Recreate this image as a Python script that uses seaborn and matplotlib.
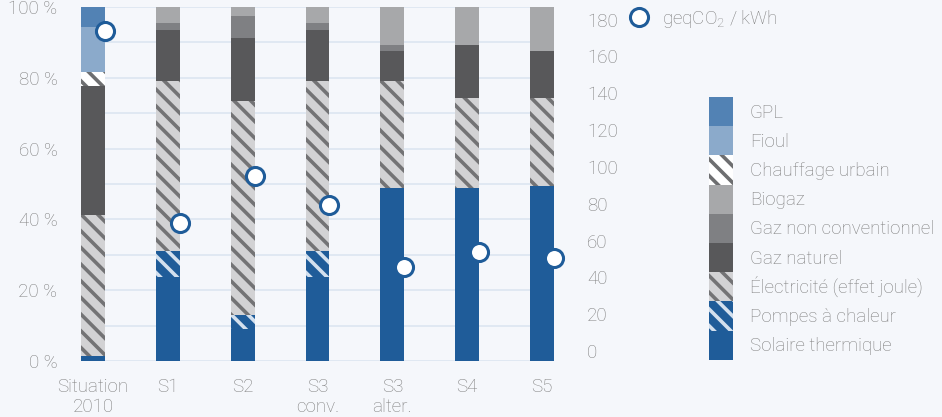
import numpy as np
import pandas as pd
import matplotlib
matplotlib.use("Agg")
import matplotlib.pyplot as plt
import seaborn as sns
from matplotlib.patches import Patch
from matplotlib.lines import Line2D

# données (parts en %, de bas en haut) et émissions en geqCO2/kWh
categories = ["Situation\n2010", "S1", "S2", "S3\nconv.", "S3\nalter.", "S4", "S5"]
solaire = [1.5, 23.8, 9.1, 23.8, 49.0, 49.0, 49.3]
pac = [0, 7.2, 3.9, 7.2, 0, 0, 0]
electricite = [39.7, 48.1, 60.5, 48.1, 30.1, 25.2, 24.9]
gaz_naturel = [36.5, 14.4, 17.7, 14.4, 8.4, 15.0, 13.3]
gaz_non_conv = [0, 2.0, 6.3, 2.0, 1.7, 0, 0]
biogaz = [0, 4.5, 2.5, 4.5, 10.8, 10.8, 12.5]
chauffage_urbain = [3.8, 0, 0, 0, 0, 0, 0]
fioul = [12.9, 0, 0, 0, 0, 0, 0]
gpl = [5.6, 0, 0, 0, 0, 0, 0]
co2 = [173.5, 69.4, 94.9, 79.2, 45.5, 53.7, 50.4]

layer_names = ["Solaire thermique", "Pompes à chaleur", "Électricité (effet joule)",
               "Gaz naturel", "Gaz non conventionnel", "Biogaz",
               "Chauffage urbain", "Fioul", "GPL"]
layer_values = [solaire, pac, electricite, gaz_naturel, gaz_non_conv, biogaz,
                chauffage_urbain, fioul, gpl]

BLUE = "#1F5C99"
TXT = "#7F7F7F"
BG = "#F5F7FB"
FS = 13.5
# (couleur de fond, hachure, couleur des hachures)
styles = {
    "Solaire thermique": (BLUE, None, BLUE),
    "Pompes à chaleur": (BLUE, "\\\\", "#D3E0EE"),
    "Électricité (effet joule)": ("#D2D2D4", "\\\\", "#737375"),
    "Gaz naturel": ("#58585A", None, "#58585A"),
    "Gaz non conventionnel": ("#7F8083", None, "#7F8083"),
    "Biogaz": ("#A7A8AA", None, "#A7A8AA"),
    "Chauffage urbain": ("#FFFFFF", "\\\\", "#6D6E70"),
    "Fioul": ("#8BAACB", None, "#8BAACB"),
    "GPL": ("#5282B4", None, "#5282B4"),
}

df = pd.DataFrame(dict(zip(layer_names, layer_values)), index=categories)
cum = df.cumsum(axis=1)

sns.set_theme(style="white")
plt.rcParams["font.family"] = ["Roboto", "DejaVu Sans"]
plt.rcParams["font.weight"] = "light"
plt.rcParams["mathtext.fontset"] = "custom"
plt.rcParams["mathtext.rm"] = "Roboto:light"
plt.rcParams["hatch.linewidth"] = 2.6

fig = plt.figure(figsize=(9.42, 4.17), dpi=100, facecolor=BG)
ax = fig.add_axes([81 / 942, 1 - 361 / 417, 473 / 942, 354 / 417])
ax.set_facecolor(BG)

# barres empilées : on trace les cumuls du haut vers le bas
for name in layer_names[::-1]:
    face, hatch, hcol = styles[name]
    d = pd.DataFrame({"cat": categories, "val": cum[name].values})
    sns.barplot(data=d, x="cat", y="val", color=face, saturation=1,
                width=0.32, hatch=hatch, edgecolor=hcol, linewidth=0,
                ax=ax, zorder=2)

ax.set_xlim(-0.16, len(categories) - 1 + 0.16)
ax.set_ylim(0, 100)
ax.set_yticks(range(0, 101, 10))
ax.set_yticklabels([f"{v} %" if v % 20 == 0 else "" for v in range(0, 101, 10)])
ax.grid(axis="y", color="#DCE6F1", linewidth=1.2)
ax.set_axisbelow(True)
ax.set_xlabel("")
ax.set_ylabel("")
ax.tick_params(axis="y", length=0, pad=17, labelsize=FS, labelcolor=TXT)
ax.tick_params(axis="x", length=0, pad=12, labelsize=FS, labelcolor=TXT)
sns.despine(ax=ax, left=True, bottom=True)

# émissions (axe de droite)
ax2 = ax.twinx()
xpos = np.arange(len(categories)) + 0.16
sns.scatterplot(x=xpos, y=co2, ax=ax2, s=169, color="white",
                edgecolor=BLUE, linewidth=2.2, zorder=5, legend=False,
                clip_on=False)
ax2.set_ylim(-5.4, 186.8)
ax2.set_yticks(range(0, 181, 20))
ax2.tick_params(axis="y", length=0, pad=24, labelsize=FS, labelcolor=TXT)
ax2.grid(False)
for s in ax2.spines.values():
    s.set_visible(False)
ax2.set_ylabel("")

# légendes
h_marker = [Line2D([], [], marker="o", linestyle="none", markersize=13,
                   markerfacecolor="white", markeredgecolor=BLUE, markeredgewidth=2.2)]
leg1 = fig.legend(h_marker, ["geqCO$_2$ / kWh"], loc="center left",
                  bbox_to_anchor=(630 / 942, 1 - 19 / 417), frameon=False,
                  fontsize=FS, handlelength=0.96, handletextpad=0.75,
                  borderpad=0, borderaxespad=0, labelcolor=TXT)

handles = []
for name in layer_names[::-1]:
    face, hatch, hcol = styles[name]
    handles.append(Patch(facecolor=face, hatch=hatch, edgecolor=hcol, linewidth=0))
leg2 = fig.legend(handles, layer_names[::-1], loc="upper left",
                  bbox_to_anchor=(709 / 942, 1 - 97 / 417), frameon=False,
                  fontsize=FS, handlelength=1.28, handleheight=2.02,
                  handletextpad=0.9, labelspacing=0, borderpad=0,
                  borderaxespad=0, labelcolor=TXT)

fig.savefig("out.png", dpi=100, facecolor=BG)
